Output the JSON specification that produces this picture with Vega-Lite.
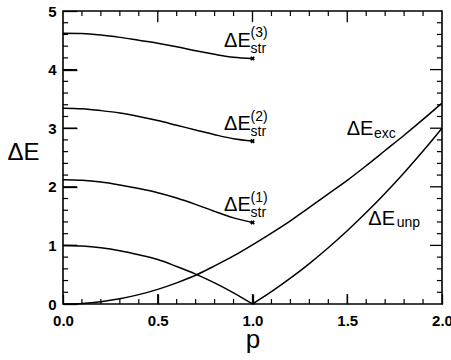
{
  "$schema": "https://vega.github.io/schema/vega-lite/v6.json",
  "width": 379,
  "height": 293,
  "autosize": "none",
  "padding": {"left": 63, "top": 11, "right": 9, "bottom": 56},
  "background": "white",
  "config": {
    "view": {"stroke": "black", "strokeWidth": 1.6},
    "font": "Liberation Sans",
    "axis": {"domain": true, "domainOpacity": 0, "ticks": true, "tickColor": "black", "tickOpacity": 1, "tickWidth": 1.3, "title": null, "zindex": 1}
  },
  "datasets": {
    "curves": [
      {"p": 0.0, "E": 4.62, "series": "str3"}, {"p": 0.1, "E": 4.615, "series": "str3"}, {"p": 0.2, "E": 4.59, "series": "str3"}, {"p": 0.3, "E": 4.55, "series": "str3"}, {"p": 0.4, "E": 4.5, "series": "str3"}, {"p": 0.5, "E": 4.45, "series": "str3"}, {"p": 0.6, "E": 4.39, "series": "str3"}, {"p": 0.7, "E": 4.32, "series": "str3"}, {"p": 0.8, "E": 4.26, "series": "str3"}, {"p": 0.9, "E": 4.21, "series": "str3"}, {"p": 1.0, "E": 4.19, "series": "str3"},
      {"p": 0.0, "E": 3.34, "series": "str2"}, {"p": 0.1, "E": 3.33, "series": "str2"}, {"p": 0.2, "E": 3.3, "series": "str2"}, {"p": 0.3, "E": 3.26, "series": "str2"}, {"p": 0.4, "E": 3.2, "series": "str2"}, {"p": 0.5, "E": 3.13, "series": "str2"}, {"p": 0.6, "E": 3.05, "series": "str2"}, {"p": 0.7, "E": 2.97, "series": "str2"}, {"p": 0.8, "E": 2.89, "series": "str2"}, {"p": 0.9, "E": 2.82, "series": "str2"}, {"p": 1.0, "E": 2.78, "series": "str2"},
      {"p": 0.0, "E": 2.12, "series": "str1"}, {"p": 0.1, "E": 2.11, "series": "str1"}, {"p": 0.2, "E": 2.08, "series": "str1"}, {"p": 0.3, "E": 2.03, "series": "str1"}, {"p": 0.4, "E": 1.97, "series": "str1"}, {"p": 0.5, "E": 1.9, "series": "str1"}, {"p": 0.6, "E": 1.81, "series": "str1"}, {"p": 0.7, "E": 1.7, "series": "str1"}, {"p": 0.8, "E": 1.58, "series": "str1"}, {"p": 0.9, "E": 1.47, "series": "str1"}, {"p": 1.0, "E": 1.39, "series": "str1"},
      {"p": 0.0, "E": 1.0, "series": "unp_a"}, {"p": 0.1, "E": 0.99, "series": "unp_a"}, {"p": 0.2, "E": 0.96, "series": "unp_a"}, {"p": 0.3, "E": 0.91, "series": "unp_a"}, {"p": 0.4, "E": 0.84, "series": "unp_a"}, {"p": 0.5, "E": 0.76, "series": "unp_a"}, {"p": 0.6, "E": 0.64, "series": "unp_a"}, {"p": 0.7, "E": 0.51, "series": "unp_a"}, {"p": 0.8, "E": 0.36, "series": "unp_a"}, {"p": 0.9, "E": 0.19, "series": "unp_a"}, {"p": 1.0, "E": 0.0, "series": "unp_a"},
      {"p": 1.0, "E": 0.0, "series": "unp_b"}, {"p": 1.1, "E": 0.21, "series": "unp_b"}, {"p": 1.2, "E": 0.44, "series": "unp_b"}, {"p": 1.3, "E": 0.69, "series": "unp_b"}, {"p": 1.4, "E": 0.96, "series": "unp_b"}, {"p": 1.5, "E": 1.25, "series": "unp_b"}, {"p": 1.6, "E": 1.56, "series": "unp_b"}, {"p": 1.7, "E": 1.89, "series": "unp_b"}, {"p": 1.8, "E": 2.24, "series": "unp_b"}, {"p": 1.9, "E": 2.61, "series": "unp_b"}, {"p": 2.0, "E": 3.0, "series": "unp_b"},
      {"p": 0.0, "E": 0.0, "series": "exc"}, {"p": 0.1, "E": 0.01, "series": "exc"}, {"p": 0.2, "E": 0.04, "series": "exc"}, {"p": 0.3, "E": 0.09, "series": "exc"}, {"p": 0.4, "E": 0.16, "series": "exc"}, {"p": 0.5, "E": 0.25, "series": "exc"}, {"p": 0.6, "E": 0.36, "series": "exc"}, {"p": 0.7, "E": 0.49, "series": "exc"}, {"p": 0.8, "E": 0.65, "series": "exc"}, {"p": 0.9, "E": 0.82, "series": "exc"}, {"p": 1.0, "E": 1.01, "series": "exc"}, {"p": 1.1, "E": 1.21, "series": "exc"}, {"p": 1.2, "E": 1.42, "series": "exc"}, {"p": 1.3, "E": 1.65, "series": "exc"}, {"p": 1.4, "E": 1.88, "series": "exc"}, {"p": 1.5, "E": 2.11, "series": "exc"}, {"p": 1.6, "E": 2.36, "series": "exc"}, {"p": 1.7, "E": 2.62, "series": "exc"}, {"p": 1.8, "E": 2.88, "series": "exc"}, {"p": 1.9, "E": 3.15, "series": "exc"}, {"p": 2.0, "E": 3.43, "series": "exc"}
    ],
    "labels": [
      {"p": 0.85, "E": 4.39, "text": "ΔE", "role": "main"},
      {"p": 0.99, "E": 4.29, "text": "str", "role": "sub"},
      {"p": 0.99, "E": 4.55, "text": "(3)", "role": "sub"},
      {"p": 0.85, "E": 2.97, "text": "ΔE", "role": "main"},
      {"p": 0.99, "E": 2.87, "text": "str", "role": "sub"},
      {"p": 0.99, "E": 3.13, "text": "(2)", "role": "sub"},
      {"p": 0.85, "E": 1.58, "text": "ΔE", "role": "main"},
      {"p": 0.99, "E": 1.48, "text": "str", "role": "sub"},
      {"p": 0.99, "E": 1.74, "text": "(1)", "role": "sub"},
      {"p": 1.497, "E": 2.88, "text": "ΔE", "role": "main"},
      {"p": 1.641, "E": 2.83, "text": "exc", "role": "sub"},
      {"p": 1.611, "E": 1.35, "text": "ΔE", "role": "main"},
      {"p": 1.761, "E": 1.32, "text": "unp", "role": "sub"}
    ],
    "xticks": [
      {"v": 0.1, "kind": "minor"}, {"v": 0.2, "kind": "minor"}, {"v": 0.3, "kind": "minor"}, {"v": 0.4, "kind": "minor"}, {"v": 0.5, "kind": "major"},
      {"v": 0.6, "kind": "minor"}, {"v": 0.7, "kind": "minor"}, {"v": 0.8, "kind": "minor"}, {"v": 0.9, "kind": "minor"}, {"v": 1.0, "kind": "major"},
      {"v": 1.1, "kind": "minor"}, {"v": 1.2, "kind": "minor"}, {"v": 1.3, "kind": "minor"}, {"v": 1.4, "kind": "minor"}, {"v": 1.5, "kind": "major"},
      {"v": 1.6, "kind": "minor"}, {"v": 1.7, "kind": "minor"}, {"v": 1.8, "kind": "minor"}, {"v": 1.9, "kind": "minor"}
    ],
    "yticks": [
      {"v": 0.2, "kind": "minor"}, {"v": 0.4, "kind": "minor"}, {"v": 0.6, "kind": "minor"}, {"v": 0.8, "kind": "minor"}, {"v": 1, "kind": "major"},
      {"v": 1.2, "kind": "minor"}, {"v": 1.4, "kind": "minor"}, {"v": 1.6, "kind": "minor"}, {"v": 1.8, "kind": "minor"}, {"v": 2, "kind": "major"},
      {"v": 2.2, "kind": "minor"}, {"v": 2.4, "kind": "minor"}, {"v": 2.6, "kind": "minor"}, {"v": 2.8, "kind": "minor"}, {"v": 3, "kind": "major"},
      {"v": 3.2, "kind": "minor"}, {"v": 3.4, "kind": "minor"}, {"v": 3.6, "kind": "minor"}, {"v": 3.8, "kind": "minor"}, {"v": 4, "kind": "major"},
      {"v": 4.2, "kind": "minor"}, {"v": 4.4, "kind": "minor"}, {"v": 4.6, "kind": "minor"}, {"v": 4.8, "kind": "minor"}
    ]
  },
  "resolve": {"axis": {"x": "independent", "y": "independent"}},
  "layer": [
    {
      "data": {"name": "curves"},
      "mark": {"type": "line", "color": "black", "strokeWidth": 1.5, "interpolate": "monotone"},
      "encoding": {
        "x": {
          "field": "p", "type": "quantitative",
          "scale": {"domain": [0, 2], "nice": false, "zero": false},
          "axis": {
            "orient": "bottom", "title": "p", "offset": -10, "grid": false,
            "values": [0, 0.5, 1, 1.5, 2], "format": ".1f",
            "tickSize": 10, "tickColor": "black", "tickWidth": 1.3,
            "labelFont": "Liberation Sans", "labelFontSize": 15, "labelFontWeight": "bold", "labelColor": "black",
            "labelPadding": 9, "labelFlush": false, "labelOverlap": false, "labelBound": false,
            "titleFont": "Liberation Sans", "titleFontSize": 26, "titleFontWeight": "normal", "titleColor": "black",
            "titleY": 53, "titleBaseline": "alphabetic"
          }
        },
        "y": {
          "field": "E", "type": "quantitative",
          "scale": {"domain": [0, 5], "nice": false, "zero": false},
          "axis": {
            "orient": "left", "title": "ΔE", "offset": -14, "grid": false,
            "values": [0, 1, 2, 3, 4, 5], "format": "d",
            "tickSize": 14, "tickColor": "black", "tickWidth": 1.3,
            "labelFont": "Liberation Sans", "labelFontSize": 15, "labelFontWeight": "bold", "labelColor": "black",
            "labelPadding": 7, "labelFlush": false, "labelOverlap": false, "labelBound": false,
            "titleFont": "Liberation Sans", "titleFontSize": 24, "titleFontWeight": "normal", "titleColor": "black",
            "titleAngle": 0, "titleX": -54, "titleY": 141, "titleAlign": "center", "titleBaseline": "middle"
          }
        },
        "detail": {"field": "series"}
      }
    },
    {
      "data": {"name": "xticks"},
      "transform": [{"filter": "datum.kind == 'major'"}],
      "mark": {"type": "rule", "color": "black", "strokeWidth": 1.3},
      "encoding": {
        "x": {"field": "v", "type": "quantitative", "axis": null},
        "y": {"datum": 0, "type": "quantitative", "axis": null},
        "y2": {"datum": 0.17}
      }
    },
    {
      "data": {"name": "xticks"},
      "transform": [{"filter": "datum.kind == 'major'"}],
      "mark": {"type": "rule", "color": "black", "strokeWidth": 1.3},
      "encoding": {
        "x": {"field": "v", "type": "quantitative", "axis": null},
        "y": {"datum": 5, "type": "quantitative", "axis": null},
        "y2": {"datum": 4.81}
      }
    },
    {
      "data": {"name": "xticks"},
      "transform": [{"filter": "datum.kind == 'minor'"}],
      "mark": {"type": "rule", "color": "black", "strokeWidth": 1.2},
      "encoding": {
        "x": {"field": "v", "type": "quantitative", "axis": null},
        "y": {"datum": 0, "type": "quantitative", "axis": null},
        "y2": {"datum": 0.085}
      }
    },
    {
      "data": {"name": "xticks"},
      "transform": [{"filter": "datum.kind == 'minor'"}],
      "mark": {"type": "rule", "color": "black", "strokeWidth": 1.2},
      "encoding": {
        "x": {"field": "v", "type": "quantitative", "axis": null},
        "y": {"datum": 5, "type": "quantitative", "axis": null},
        "y2": {"datum": 4.915}
      }
    },
    {
      "data": {"name": "yticks"},
      "transform": [{"filter": "datum.kind == 'major'"}],
      "mark": {"type": "rule", "color": "black", "strokeWidth": 1.3},
      "encoding": {
        "y": {"field": "v", "type": "quantitative", "axis": null},
        "x": {"datum": 0, "type": "quantitative", "axis": null},
        "x2": {"datum": 0.074}
      }
    },
    {
      "data": {"name": "yticks"},
      "transform": [{"filter": "datum.kind == 'major'"}],
      "mark": {"type": "rule", "color": "black", "strokeWidth": 1.3},
      "encoding": {
        "y": {"field": "v", "type": "quantitative", "axis": null},
        "x": {"datum": 2, "type": "quantitative", "axis": null},
        "x2": {"datum": 1.937}
      }
    },
    {
      "data": {"name": "yticks"},
      "transform": [{"filter": "datum.kind == 'minor'"}],
      "mark": {"type": "rule", "color": "black", "strokeWidth": 1.2},
      "encoding": {
        "y": {"field": "v", "type": "quantitative", "axis": null},
        "x": {"datum": 0, "type": "quantitative", "axis": null},
        "x2": {"datum": 0.027}
      }
    },
    {
      "data": {"name": "yticks"},
      "transform": [{"filter": "datum.kind == 'minor'"}],
      "mark": {"type": "rule", "color": "black", "strokeWidth": 1.2},
      "encoding": {
        "y": {"field": "v", "type": "quantitative", "axis": null},
        "x": {"datum": 2, "type": "quantitative", "axis": null},
        "x2": {"datum": 1.973}
      }
    },
    {
      "data": {"name": "curves"},
      "transform": [{"filter": "datum.p == 1 && (datum.series == 'str1' || datum.series == 'str2' || datum.series == 'str3')"}],
      "mark": {"type": "point", "shape": "cross", "angle": 45, "filled": true, "color": "black", "size": 22, "opacity": 1},
      "encoding": {
        "x": {"field": "p", "type": "quantitative", "axis": null},
        "y": {"field": "E", "type": "quantitative", "axis": null}
      }
    },
    {
      "data": {"name": "labels"},
      "transform": [{"filter": "datum.role == 'main'"}],
      "mark": {"type": "text", "align": "left", "baseline": "alphabetic", "font": "Liberation Sans", "fontSize": 20, "color": "black"},
      "encoding": {
        "x": {"field": "p", "type": "quantitative", "axis": null},
        "y": {"field": "E", "type": "quantitative", "axis": null},
        "text": {"field": "text"}
      }
    },
    {
      "data": {"name": "labels"},
      "transform": [{"filter": "datum.role == 'sub'"}],
      "mark": {"type": "text", "align": "left", "baseline": "alphabetic", "font": "Liberation Sans", "fontSize": 14, "color": "black"},
      "encoding": {
        "x": {"field": "p", "type": "quantitative", "axis": null},
        "y": {"field": "E", "type": "quantitative", "axis": null},
        "text": {"field": "text"}
      }
    }
  ]
}
